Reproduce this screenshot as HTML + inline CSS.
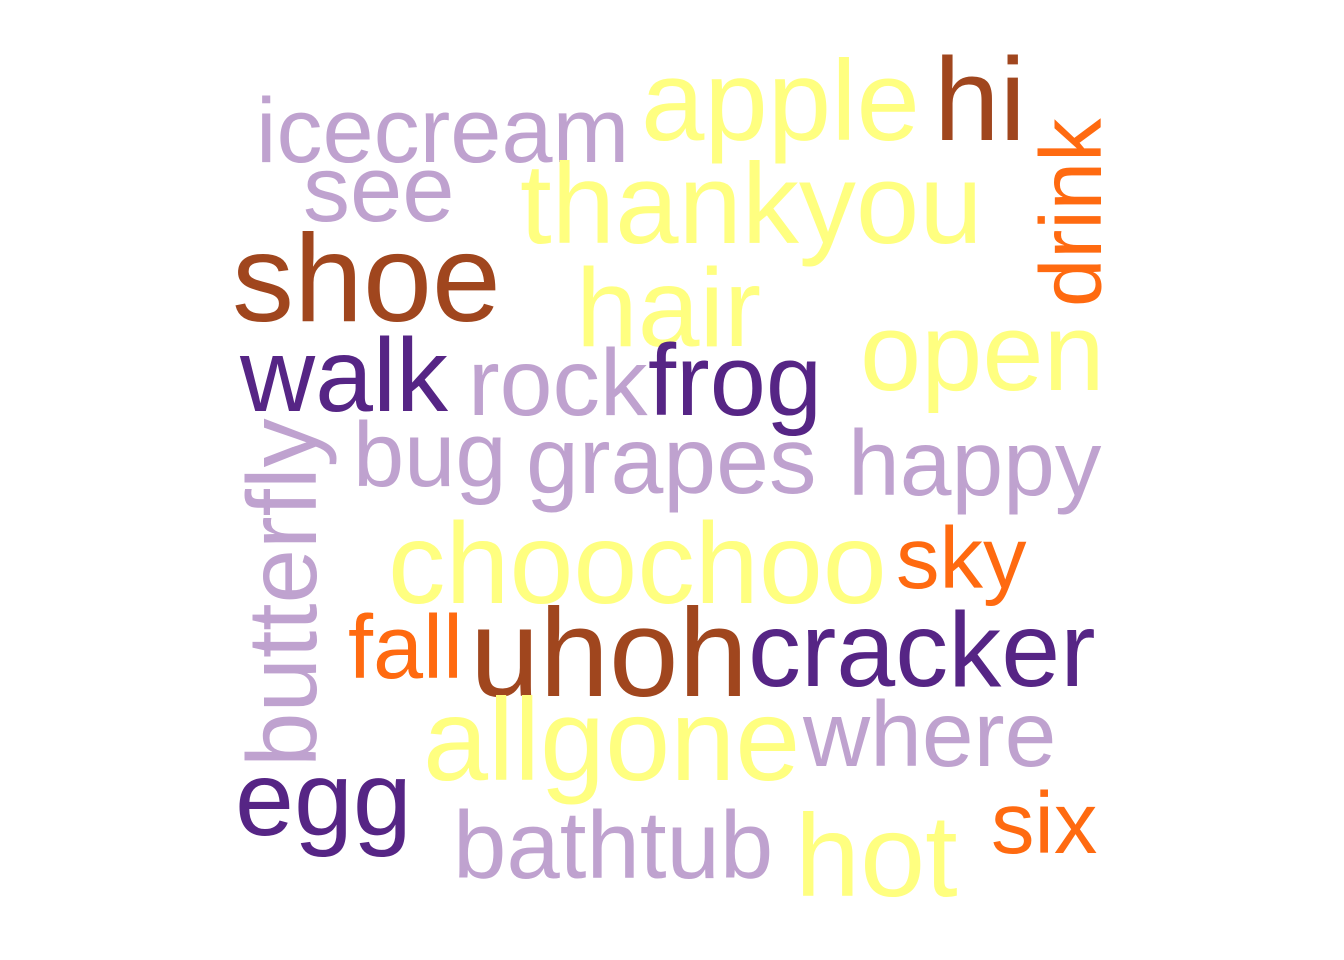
<!DOCTYPE html>
<html><head><meta charset="utf-8"><style>
html,body{margin:0;padding:0;background:#fff;}
svg{display:block;}
text{font-family:"Liberation Sans",Arial,sans-serif;}
</style></head><body>
<svg id="cloud" width="1344" height="960" viewBox="0 0 1344 960"></svg>
<script>
const words = ["icecream","apple","hi","drink","see","thankyou","shoe","hair","open","walk","rock","frog","butterfly","bug","grapes","happy","choochoo","sky","fall","uhoh","cracker","allgone","where","egg","bathtub","hot","six"];
const sizes = [92,114,118,87,94,114,124,111,110,104,95,101,98,92,95,93,115,87,90,125,106,117,93,106,96,117,87];
const colorIdx = [0,1,2,3,0,1,2,1,1,4,0,4,0,0,0,0,1,3,3,2,4,1,0,4,0,1,3];
const palette = ["#BFA2CF","#FFFF80","#A0461E","#FF6A10","#562585"];
const xs = [256,641,934,1101,303,520,232,576,860,240,468,648,316,353,526,848,388,896,348,470,748,423,803,235,453,795,991];
const ys = [162,140,140,307,221,243,321,346,390,411,415,415,767,486,493,495,603,588,678,696,686,780,766,835,878,896,853];
const rotated = [0,0,0,1,0,0,0,0,0,0,0,0,1,0,0,0,0,0,0,0,0,0,0,0,0,0,0];
const svg = document.getElementById('cloud');
const NS = 'http://www.w3.org/2000/svg';
for (let i = 0; i < words.length; i++) {
  const t = document.createElementNS(NS, 'text');
  t.setAttribute('x', xs[i]);
  t.setAttribute('y', ys[i]);
  t.setAttribute('font-size', sizes[i]);
  t.setAttribute('fill', palette[colorIdx[i]]);
  if (rotated[i]) t.setAttribute('transform', 'rotate(-90 ' + xs[i] + ' ' + ys[i] + ')');
  t.textContent = words[i];
  
  
  svg.appendChild(t);
}
</script>
</body></html>
